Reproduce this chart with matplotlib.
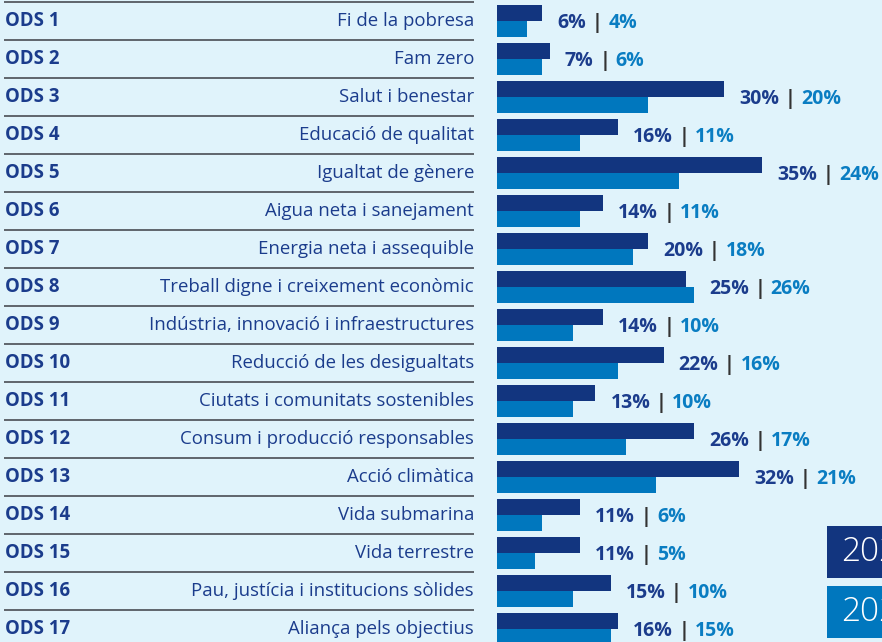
import matplotlib
matplotlib.use("Agg")
import matplotlib.pyplot as plt
from matplotlib.offsetbox import TextArea, HPacker, AnnotationBbox
from matplotlib.patches import Rectangle

plt.rcParams['font.family'] = ['Open Sans', 'DejaVu Sans']

# Data
codes = ["ODS %d" % i for i in range(1, 18)]
names = ["Fi de la pobresa", "Fam zero", "Salut i benestar", "Educació de qualitat",
         "Igualtat de gènere", "Aigua neta i sanejament", "Energia neta i assequible",
         "Treball digne i creixement econòmic", "Indústria, innovació i infraestructures",
         "Reducció de les desigualtats", "Ciutats i comunitats sostenibles",
         "Consum i producció responsables", "Acció climàtica", "Vida submarina",
         "Vida terrestre", "Pau, justícia i institucions sòlides", "Aliança pels objectius"]
vals_a = [6, 7, 30, 16, 35, 14, 20, 25, 14, 22, 13, 26, 32, 11, 11, 15, 16]
vals_b = [4, 6, 20, 11, 24, 11, 18, 26, 10, 16, 10, 17, 21, 6, 5, 10, 15]
years = ["2022", "2021"]

bg = "#E0F3FB"
navy = "#12357F"
blue = "#0077BE"
txt_navy = "#1B3C8C"
txt_blue = "#0A7DC2"

W, H = 882, 642
fig = plt.figure(figsize=(W / 100, H / 100), dpi=100)
fig.patch.set_facecolor(bg)

n = len(codes)
pitch = 38.0
top0 = 21.0
ylim = ((H - top0) / pitch, -top0 / pitch)

# background axes in pixel-like x units for the table part
ax0 = fig.add_axes([0, 0, 1, 1])
ax0.set_xlim(0, W)
ax0.set_ylim(*ylim)
ax0.axis("off")
for i in range(n):
    ax0.hlines(i - 0.5, 4, 474, color="#555a60", lw=1.3)
    ax0.text(5, i, codes[i], ha="left", va="center", fontsize=13.4,
             fontweight="bold", color=txt_navy)
    ax0.text(474, i, names[i], ha="right", va="center", fontsize=13.4,
             color=txt_navy)

# bars axes
px_per = 7.57
left = 497
ax = fig.add_axes([left / W, 0, (W - left) / W, 1])
ax.set_xlim(0, (W - left) / px_per)
ax.set_ylim(*ylim)
ax.axis("off")
ys = list(range(n))
h = 0.41
ax.barh([y - h / 2 for y in ys], vals_a, height=h, color=navy, linewidth=0)
ax.barh([y + h / 2 for y in ys], vals_b, height=h, color=blue, linewidth=0)

for i in range(n):
    parts = [TextArea("%d%%" % vals_a[i], textprops=dict(color=txt_navy, fontsize=14, fontweight="bold")),
             TextArea("|", textprops=dict(color="#333333", fontsize=14, fontweight="bold")),
             TextArea("%d%%" % vals_b[i], textprops=dict(color=txt_blue, fontsize=14, fontweight="bold"))]
    box = HPacker(children=parts, align="center", pad=0, sep=4)
    x = max(vals_a[i], vals_b[i]) + 15 / px_per
    ab = AnnotationBbox(box, (x, i + 0.05), box_alignment=(0, 0.5), frameon=False,
                        xycoords="data", pad=0, annotation_clip=False)
    ax.add_artist(ab)

# year boxes at bottom right (cut by the right edge, as in the original)
for k, (yr, col) in enumerate(zip(years, [navy, blue])):
    y0 = 1 - (526 + k * 60) / H - 52 / H
    fig.patches.append(Rectangle((827 / W, y0), 60 / W, 52 / H, transform=fig.transFigure,
                                 facecolor=col, edgecolor="none", zorder=3))
    fig.text(841 / W, y0 + 26 / H, yr, color="white", fontsize=24, fontweight="light",
             ha="left", va="center", zorder=4)

fig.savefig("out.png", dpi=100, facecolor=bg)
